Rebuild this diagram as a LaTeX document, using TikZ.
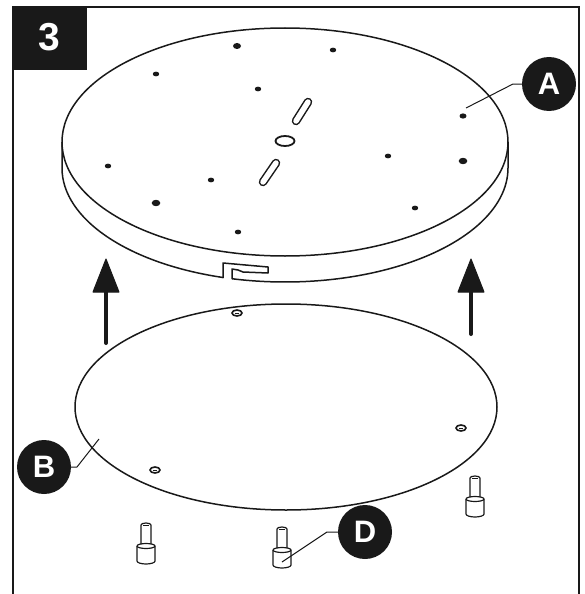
\documentclass[tikz,border=0pt]{standalone}
\usepackage{fontspec}
\setmainfont{Liberation Sans}
\tikzset{
  callout/.style={circle,fill=black!90,text=white,font=\fontsize{31}{31}\selectfont\bfseries,minimum size=54pt,inner sep=0pt},
  leader/.style={line width=1pt,black!90},
  outline/.style={line width=1.5pt,black!90},
  slot/.style={line width=8.5pt,line cap=round,black!90},
  slotin/.style={line width=5.5pt,line cap=round,white},
  lift/.style={line width=4pt,line cap=round,black!90},
  pegline/.style={line width=1.2pt,black!90,line join=round}
}
\begin{document}
\begin{tikzpicture}[x=1pt,y=-1pt]
\useasboundingbox(0,0)rectangle(585,594);
%frame
\draw[line width=2pt,black!90](13,594)--(13,7)--(579,7)--(579,594);
\node[fill=black!90,text=white,font=\fontsize{39}{39}\selectfont\bfseries,minimum width=75pt,minimum height=64pt,inner sep=0pt](stepno)at(49.5,38){\raisebox{1.5pt}{3}};
%upper disc
\draw[outline](285,142)circle[x radius=223,y radius=114];
\draw[outline](62,142)--(62,168)arc[start angle=180,end angle=106.1,x radius=223,y radius=114];
\draw[outline](508,142)--(508,168)arc[start angle=0,end angle=103.75,x radius=223,y radius=114];
%notch
\draw[outline,line join=round](223,278)--(223,263)--(268,267)--(268,273)--(243,272)--(238,270)--(232,269)--(232,279);
%slots and centre hole
\draw[slot](296,121)--(308,102);
\draw[slotin](296,121)--(308,102);
\draw[slot](263,182)--(276,163);
\draw[slotin](263,182)--(276,163);
\draw[line width=1.8pt,black!90](285,141)circle[x radius=9.5,y radius=5];
%screw holes
\foreach \x/\y/\r in {237/46/4,333/50/3.2,156/74/3.2,258/89/3.2,463/116/3.5,108/166/3.2,211/180/3.2,388/156/3.2,463/161/4.3,156/203/4.3,415/208/3.2,238/232/3.2}
  \fill[black!90](\x,\y)circle[x radius=\r,y radius=.75*\r];
%lower disc
\draw[outline](286,407)circle[x radius=211,y radius=103];
\foreach \x/\y in {237/313,155/470,461/428}{
  \draw[line width=1.6pt,black!90](\x,\y)circle[x radius=5,y radius=3];
  \draw[line width=.8pt,black!90](\x-2,\y)--(\x+2,\y);
}
%arrows
\coordinate(leftfoot)at(106,343);
\coordinate(lefttip)at(106,259);
\coordinate(rightfoot)at(471,334);
\coordinate(righttip)at(471,259);
\draw[lift](leftfoot)--(106,290);
\fill[black!90,draw=black!90,line width=1pt,line join=round](lefttip)--(119,292)--(93,292)--cycle;
\draw[lift](rightfoot)--(471,290);
\fill[black!90,draw=black!90,line width=1pt,line join=round](righttip)--(484,292)--(458,292)--cycle;
%pegs
\foreach \x/\y in {146/523,282/527,475/476}{
  \draw[pegline](\x-5,\y+21)--(\x-5,\y+2)
    arc[start angle=180,end angle=360,x radius=5,y radius=2]--(\x+5,\y+21);
  \draw[line width=.8pt,black!90](\x-3,\y+2.5)--(\x+3,\y+2.5);
  \draw[pegline](\x-9,\y+23)--(\x-9,\y+38)
    arc[start angle=180,end angle=0,x radius=9,y radius=3]--(\x+9,\y+23)
    arc[start angle=360,end angle=180,x radius=9,y radius=2.5];
  \draw[pegline](\x-9,\y+23)arc[start angle=180,end angle=0,x radius=9,y radius=2.5];
}
%labels
\node[callout](labela)at(549,84){A};
\node[callout](labelb)at(44,467){B};
\node[callout](labeld)at(365,532){D};
\coordinate(aend)at(466,108);
\coordinate(bend)at(99,439);
\coordinate(dend)at(282,562);
\draw[leader](labela.west)--(513,84)--(aend);
\draw[leader](labelb.east)--(77,467)--(bend);
\draw[leader](labeld.west)--(327,532)--(dend);
\end{tikzpicture}
\end{document}
